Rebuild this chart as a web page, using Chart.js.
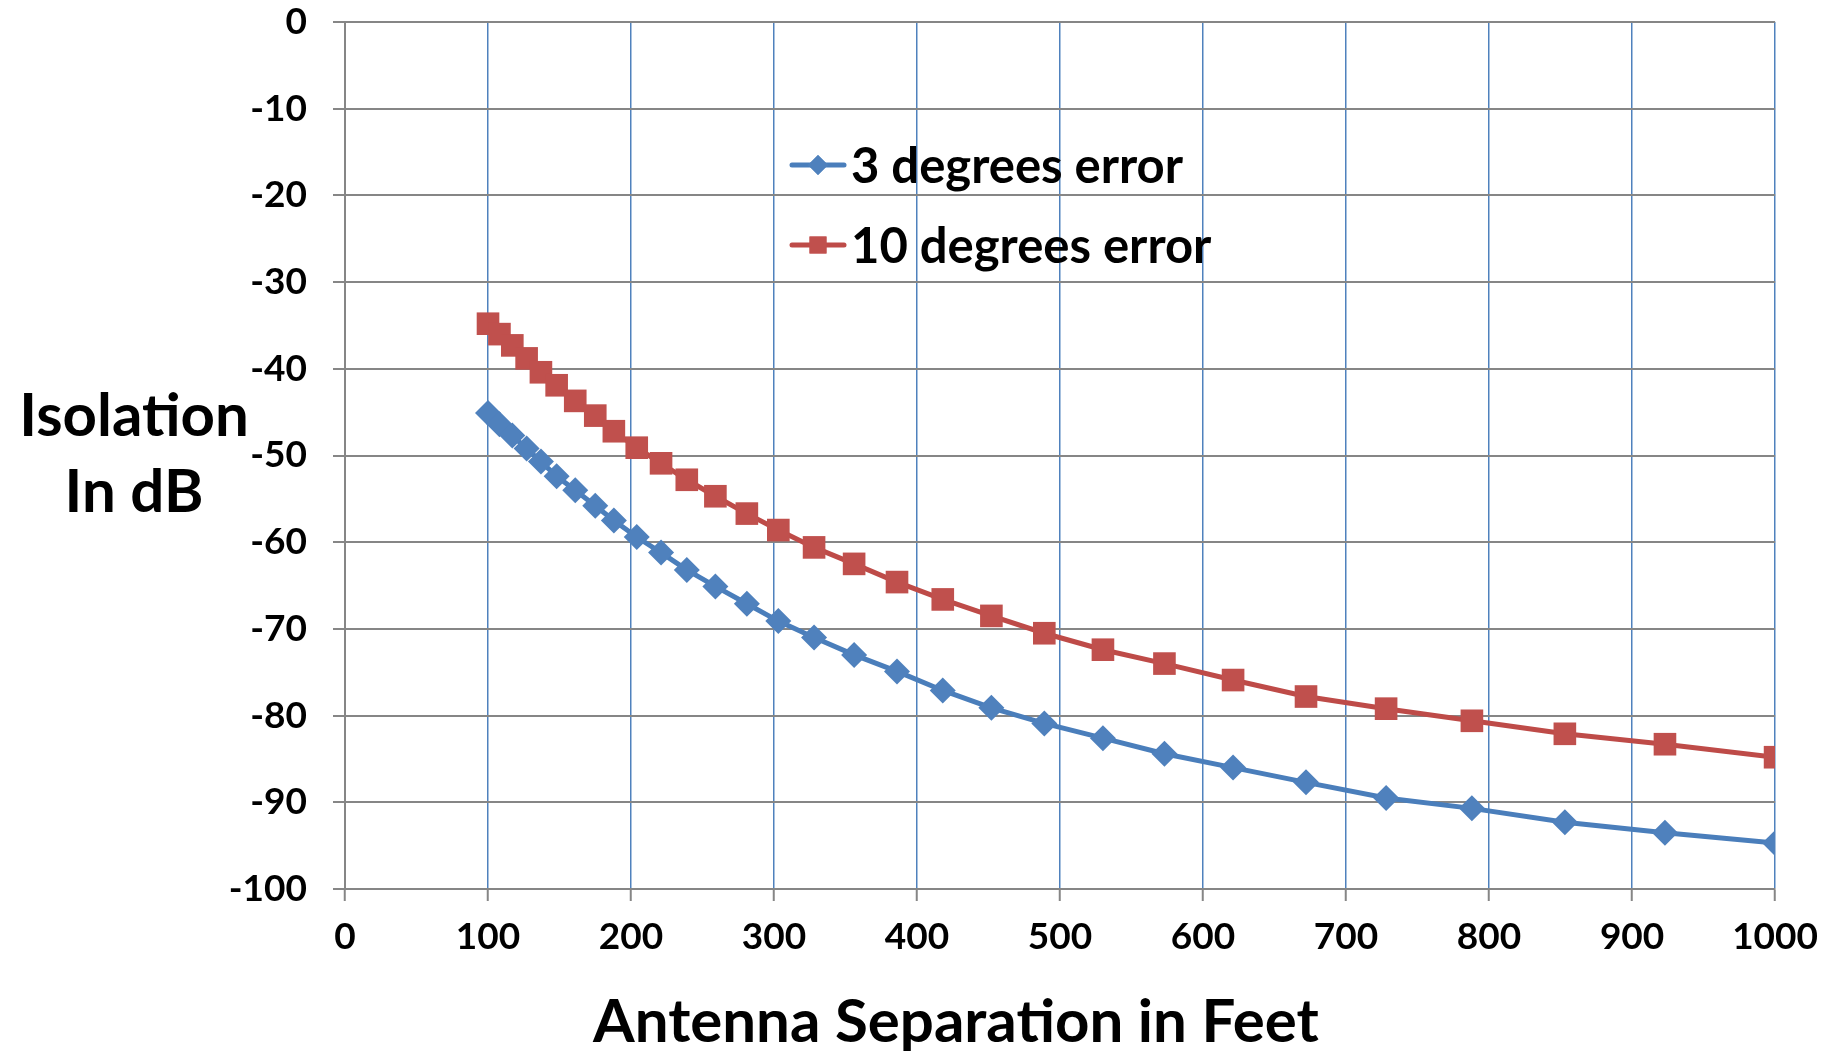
<!DOCTYPE html>
<html>
<head>
<meta charset="utf-8">
<script src="https://cdn.jsdelivr.net/npm/chart.js@4.4.1/dist/chart.umd.min.js"></script>
<style>
  html,body{margin:0;padding:0;background:#fff;}
  #wrap{width:1832px;height:1051px;position:relative;}
</style>
</head>
<body>
<div id="wrap"><canvas id="chart"></canvas></div>
<script>
// DATA (antenna separation in feet, isolation in dB)
const separation = [100,108,117,127,137,148,161,175,188,204,221,239,259,281,303,328,356,386,418,452,489,530,573,621,672,728,788,853,923,1000];
const err3 = [-45.1,-46.4,-47.7,-49.2,-50.7,-52.4,-54.0,-55.8,-57.5,-59.4,-61.2,-63.2,-65.1,-67.1,-69.1,-71.0,-73.0,-74.9,-77.1,-79.1,-80.9,-82.6,-84.4,-86.0,-87.7,-89.5,-90.7,-92.3,-93.5,-94.7];
const err10 = [-34.8,-36.0,-37.3,-38.8,-40.4,-41.9,-43.7,-45.4,-47.2,-49.1,-50.9,-52.8,-54.7,-56.7,-58.6,-60.6,-62.5,-64.6,-66.6,-68.5,-70.5,-72.4,-74.0,-75.9,-77.8,-79.2,-80.6,-82.1,-83.3,-84.8];
const seriesNames = ["3 degrees error","10 degrees error"];
const xTitle = "Antenna Separation in Feet";
const yTitle = ["Isolation","In dB"];

const FONT = "Lato, 'Open Sans', sans-serif";
const BLUE = "#4A7EBB", BLUE_PT = "#4F81BD";
const RED = "#BE4B48", RED_PT = "#C0504D";
const GRAY = "#868686";

function pts(ys){ return separation.map((x,i)=>({x:x,y:ys[i]})); }

// titles + legend drawn on top
const extras = {
  id:"extras",
  afterDraw(chart){
    const c = chart.ctx;
    c.save();
    c.fillStyle = "#000";
    c.font = "bold 60px " + FONT;
    c.textAlign = "center";
    c.textBaseline = "middle";
    c.fillText(yTitle[0], 134, 417);
    c.fillText(yTitle[1], 134, 493);
    c.fillText(xTitle, 956, 1023);

    // legend
    const items = [
      {y:165, color:BLUE, pt:BLUE_PT, style:"rectRot", r:10},
      {y:245, color:RED, pt:RED_PT, style:"rect", r:12}
    ];
    c.font = "bold 49px " + FONT;
    c.textAlign = "left";
    items.forEach((it,i)=>{
      c.strokeStyle = it.color;
      c.lineWidth = 5;
      c.lineCap = "round";
      c.beginPath(); c.moveTo(792,it.y); c.lineTo(844,it.y); c.stroke();
      c.fillStyle = it.pt;
      Chart.helpers.drawPoint(c,{pointStyle:it.style,radius:it.r,borderWidth:0,rotation:0},818,it.y);
      c.fill();
      c.fillStyle = "#000";
      c.fillText(seriesNames[i], 851, it.y+2);
    });
    c.restore();
  }
};

new Chart(document.getElementById("chart"),{
  type:"line",
  data:{
    datasets:[
      {label:seriesNames[0], data:pts(err3), borderColor:BLUE, backgroundColor:BLUE_PT,
       borderWidth:5, pointStyle:"rectRot", pointRadius:13, pointBorderWidth:0, tension:0},
      {label:seriesNames[1], data:pts(err10), borderColor:RED, backgroundColor:RED_PT,
       borderWidth:5, pointStyle:"rect", pointRadius:16, pointBorderWidth:0, tension:0}
    ]
  },
  options:{
    responsive:true,
    maintainAspectRatio:false,
    animation:false,
    layout:{padding:{top:22,right:45,left:0,bottom:0}},
    plugins:{legend:{display:false}, tooltip:{enabled:false}},
    scales:{
      x:{
        type:"linear", min:0, max:1000,
        ticks:{stepSize:100, color:"#000", padding:14, maxRotation:0,
               callback:v=>String(v),
               font:{family:FONT, size:37, weight:"bold"}},
        grid:{color:ctx=>ctx.tick && ctx.tick.value===0 ? GRAY : "#4F81BD",
              lineWidth:1.5, tickLength:12, tickColor:GRAY, tickWidth:2},
        border:{color:GRAY, width:2},
        afterFit:s=>{ s.height = 162; }
      },
      y:{
        min:-100, max:0,
        ticks:{stepSize:10, color:"#000", padding:26,
               font:{family:FONT, size:37, weight:"bold"}},
        grid:{color:GRAY, lineWidth:2, tickLength:12, tickColor:GRAY, tickWidth:2},
        border:{color:GRAY, width:2},
        afterFit:s=>{ s.width = 345; s.paddingTop = 0; s.paddingBottom = 0; }
      }
    }
  },
  plugins:[extras]
});
</script>
</body>
</html>
